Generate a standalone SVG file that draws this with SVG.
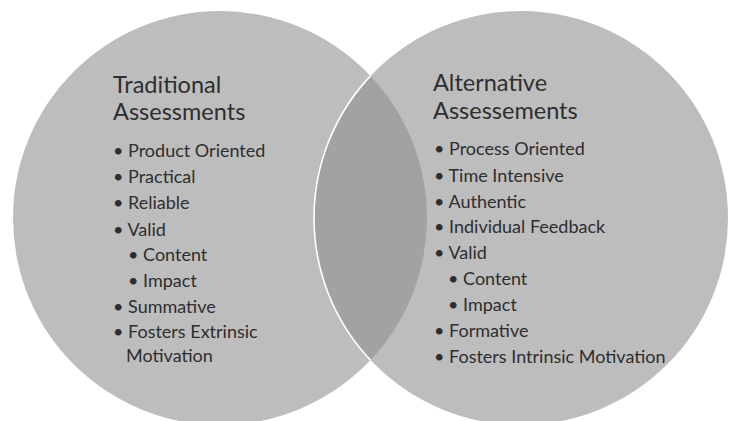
<svg xmlns="http://www.w3.org/2000/svg" width="734" height="421" viewBox="0 0 734 421">
  <style>
    .set { fill: #bdbdbd; }
    .lens { fill: #a2a2a2; }
    .edge { fill: none; stroke: #ffffff; stroke-width: 1.6; }
    .title { font-family: Lato, "Open Sans", "Liberation Sans", sans-serif; font-size: 23.5px; fill: #2e2e2e; }
    .item { font-family: Lato, "Open Sans", "Liberation Sans", sans-serif; font-size: 18px; fill: #2e2e2e; }
  </style>
  <defs>
    <clipPath id="clipLeft">
      <circle cx="220" cy="218" r="207"/>
    </clipPath>
  </defs>
  <rect width="734" height="421" fill="#ffffff"/>

  <g id="traditional-assessments">
    <circle class="set" cx="220" cy="218" r="207"/>
  </g>
  <g id="alternative-assessments">
    <circle class="set" cx="521" cy="218" r="207"/>
  </g>
  <g id="overlap">
    <circle class="lens" cx="521" cy="218" r="207" clip-path="url(#clipLeft)"/>
    <circle class="edge" cx="521" cy="218" r="207" clip-path="url(#clipLeft)"/>
  </g>

  <g id="traditional-text">
    <text class="title" x="113" y="93">Traditional</text>
    <text class="title" x="113" y="120">Assessments</text>
    <text class="item" x="113" y="157">• Product Oriented</text>
    <text class="item" x="113" y="183">• Practical</text>
    <text class="item" x="113" y="209">• Reliable</text>
    <text class="item" x="113" y="236">• Valid</text>
    <text class="item" x="128" y="261">• Content</text>
    <text class="item" x="128" y="287">• Impact</text>
    <text class="item" x="113" y="313">• Summative</text>
    <text class="item" x="113" y="338">• Fosters Extrinsic</text>
    <text class="item" x="126" y="362">Motivation</text>
  </g>

  <g id="alternative-text">
    <text class="title" x="433" y="91">Alternative</text>
    <text class="title" x="433" y="119">Assessements</text>
    <text class="item" x="434" y="155">• Process Oriented</text>
    <text class="item" x="434" y="182">• Time Intensive</text>
    <text class="item" x="434" y="208">• Authentic</text>
    <text class="item" x="434" y="233">• Individual Feedback</text>
    <text class="item" x="434" y="259">• Valid</text>
    <text class="item" x="448" y="285">• Content</text>
    <text class="item" x="448" y="311">• Impact</text>
    <text class="item" x="434" y="337">• Formative</text>
    <text class="item" x="434" y="363">• Fosters Intrinsic Motivation</text>
  </g>
</svg>
